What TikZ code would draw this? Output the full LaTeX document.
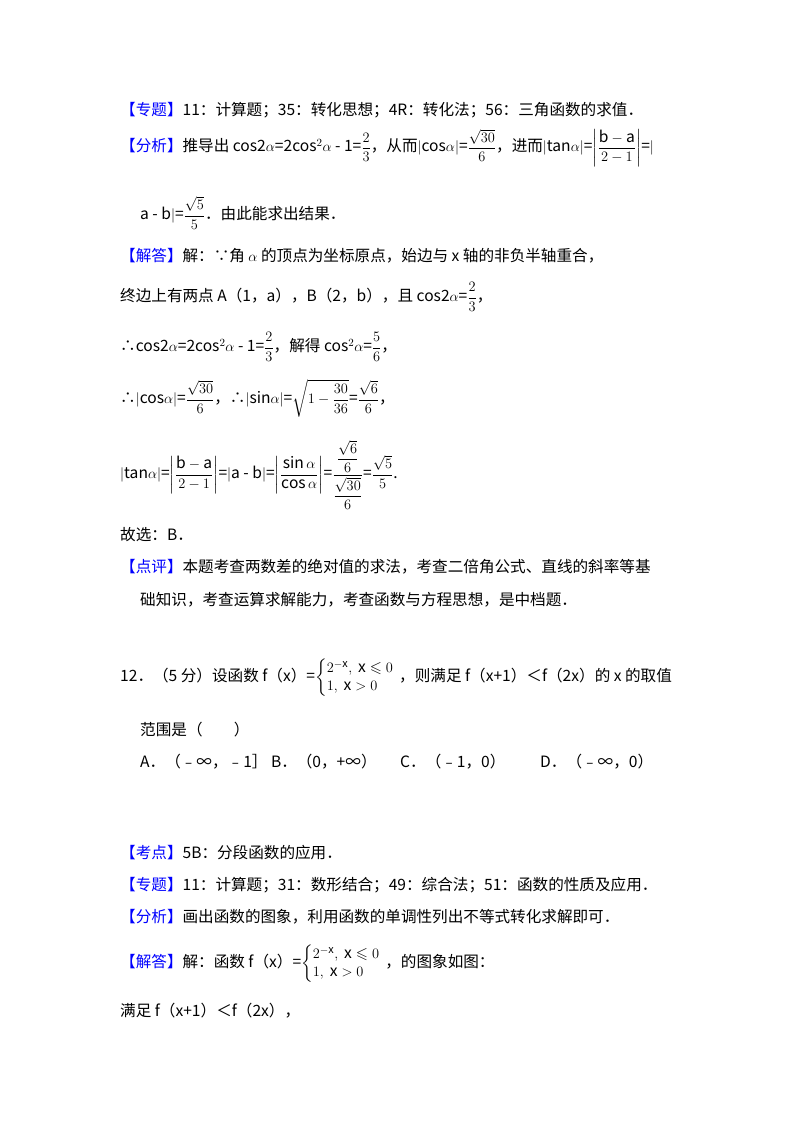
\documentclass[tikz,border=0pt]{standalone}
\usepackage{amsmath,amssymb}
\usepackage{fontspec}
\setmainfont{Noto Sans CJK SC}
\newcommand{\bq}[1]{\textcolor{blue}{【#1】}}
\newcommand{\pw}{\left\{\begin{array}{@{}l}2^{-\mathrm{x}},\ \mathrm{x}\leqslant 0\\ 1,\ \mathrm{x}>0\end{array}\right.}
\begin{document}
\begin{tikzpicture}[x=1pt,y=-1pt,t/.style={anchor=west,inner sep=0pt,font=\fontsize{15.6}{18}\selectfont}]
\useasboundingbox (0,0) rectangle (800,1132);
\node[t] (l1) at (120,110) {\bq{专题}11：计算题；35：转化思想；4R：转化法；56：三角函数的求值．};
\node[t] (l2) at (120,148) {\bq{分析}推导出 cos2$\alpha$=2cos$^2\alpha$ - 1=$\dfrac{2}{3}$，从而$|$cos$\alpha|$=$\dfrac{\sqrt{30}}{6}$，进而$|$tan$\alpha|$=$\left|\dfrac{\mathrm{b-a}}{2-1}\right|$=$|$};
\node[t] (l3) at (140,213) {a - b$|$=$\dfrac{\sqrt{5}}{5}$．由此能求出结果．};
\node[t] (l4) at (120,256) {\bq{解答}解：∵角 $\alpha$ 的顶点为坐标原点，始边与 x 轴的非负半轴重合，};
\node[t] (l5) at (120,297) {终边上有两点 A（1，a），B（2，b），且 cos2$\alpha$=$\dfrac{2}{3}$，};
\node[t] (l6) at (120,347) {∴cos2$\alpha$=2cos$^2\alpha$ - 1=$\dfrac{2}{3}$，解得 cos$^2\alpha$=$\dfrac{5}{6}$，};
\node[t] (l7) at (120,398) {∴$|$cos$\alpha|$=$\dfrac{\sqrt{30}}{6}$，∴$|$sin$\alpha|$=$\sqrt{1-\dfrac{30}{36}}$=$\dfrac{\sqrt{6}}{6}$，};
\node[t] (l8) at (120,475) {$|$tan$\alpha|$=$\left|\dfrac{\mathrm{b-a}}{2-1}\right|$=$|$a - b$|$=$\left|\dfrac{\sin\alpha}{\cos\alpha}\right|$=$\dfrac{\dfrac{\sqrt{6}}{6}}{\dfrac{\sqrt{30}}{6}}$=$\dfrac{\sqrt{5}}{5}$.};
\node[t] (l9) at (120,535) {故选：B．};
\node[t] (l10) at (120,567) {\bq{点评}本题考查两数差的绝对值的求法，考查二倍角公式、直线的斜率等基};
\node[t] (l11) at (140,600) {础知识，考查运算求解能力，考查函数与方程思想，是中档题．};
\node[t] (l12) at (120,678) {12．（5 分）设函数 f（x）=$\pw$，则满足 f（x+1）＜f（2x）的 x 的取值};
\node[t] (l13) at (140,730) {范围是（　　）};
\node[t] (a) at (140,762) {A．（﹣∞，﹣1］ B．（0，+∞）};
\node[t] (c) at (400,762) {C．（﹣1，0）};
\node[t] (d) at (540,762) {D．（﹣∞，0）};
\node[t] (l14) at (120,853) {\bq{考点}5B：分段函数的应用．};
\node[t] (l15) at (120,885) {\bq{专题}11：计算题；31：数形结合；49：综合法；51：函数的性质及应用．};
\node[t] (l16) at (120,917) {\bq{分析}画出函数的图象，利用函数的单调性列出不等式转化求解即可．};
\node[t] (l17) at (120,964) {\bq{解答}解：函数 f（x）=$\pw$，的图象如图：};
\node[t] (l18) at (120,1011) {满足 f（x+1）＜f（2x），};
\end{tikzpicture}
\end{document}
